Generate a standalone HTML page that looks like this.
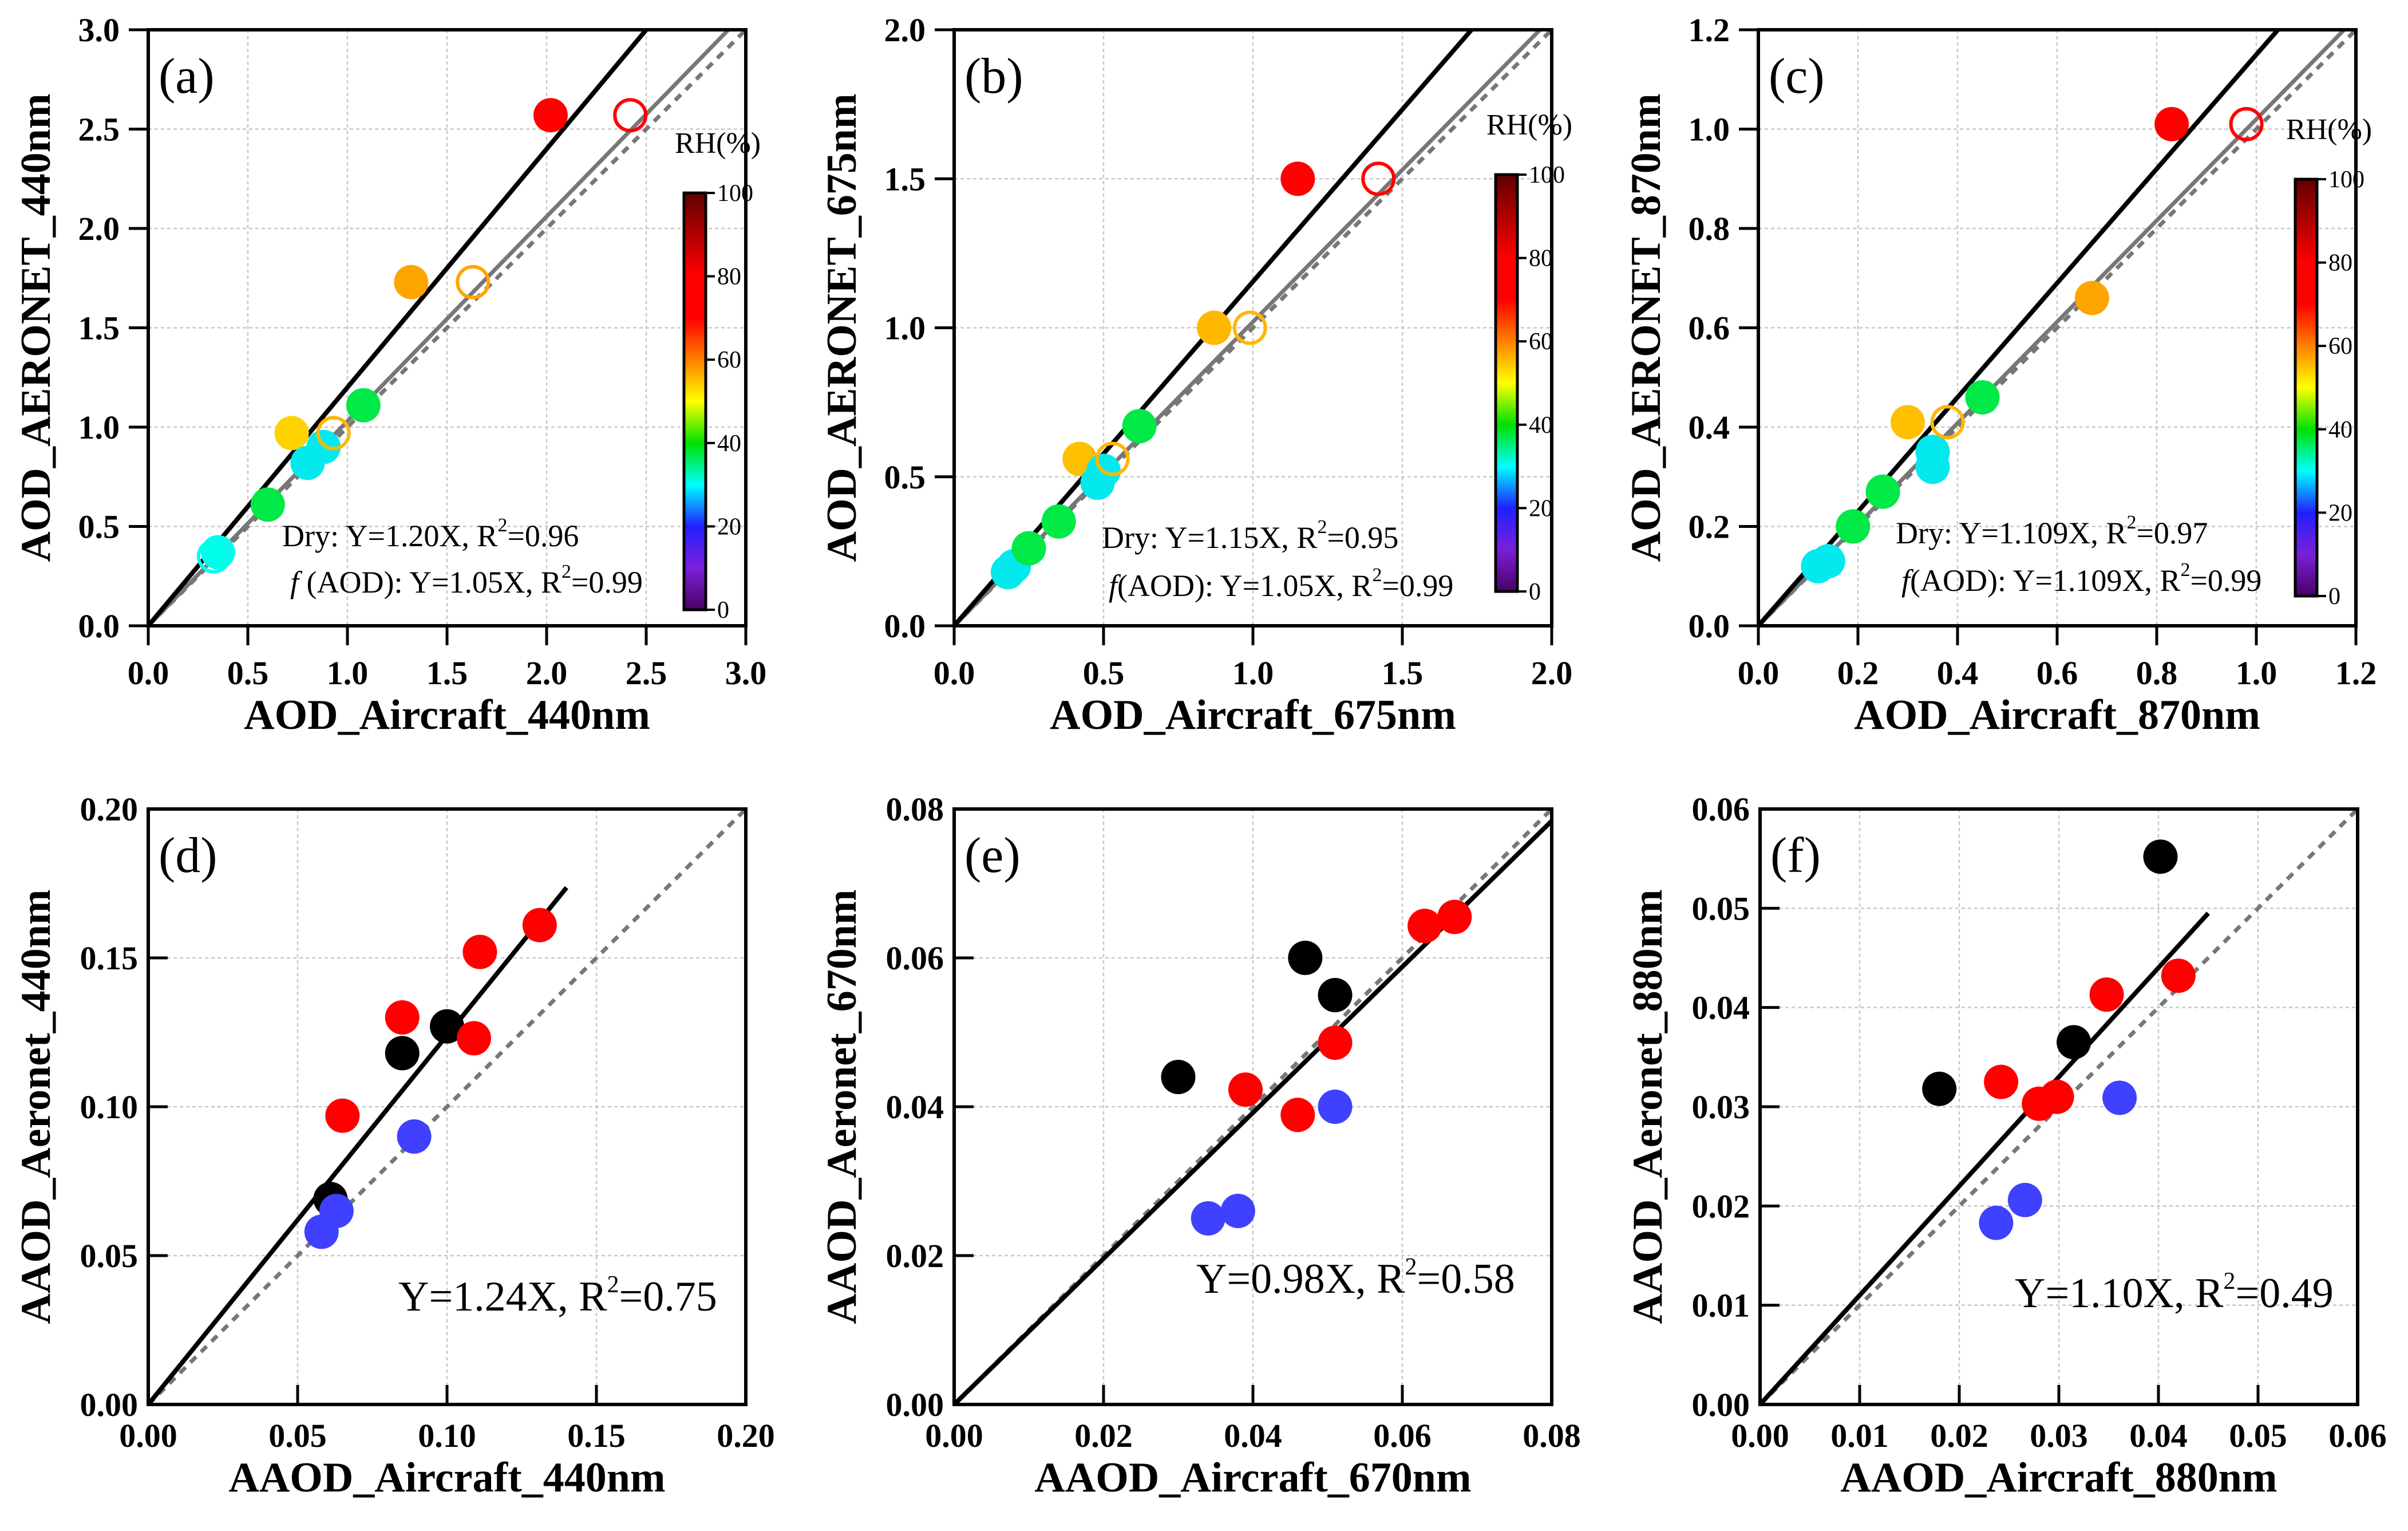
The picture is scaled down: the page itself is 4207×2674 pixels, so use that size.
<!DOCTYPE html>
<html><head><meta charset="utf-8"><style>
html,body{margin:0;padding:0;background:#fff;}
svg{display:block;}
svg text{font-family:"Liberation Serif","Times New Roman",serif;}
</style></head><body>
<svg id="fig" xmlns="http://www.w3.org/2000/svg" width="4207" height="2674" viewBox="0 0 4207 2674" font-family="Liberation Serif, serif">
<defs>
<linearGradient id="rhgrad" x1="0" y1="1" x2="0" y2="0">
<stop offset="0" stop-color="#4a0066"/>
<stop offset="0.1" stop-color="#7a20d8"/>
<stop offset="0.2" stop-color="#2020ff"/>
<stop offset="0.3" stop-color="#00ffff"/>
<stop offset="0.4" stop-color="#00e000"/>
<stop offset="0.5" stop-color="#ffff00"/>
<stop offset="0.6" stop-color="#ff8000"/>
<stop offset="0.7" stop-color="#ff0000"/>
<stop offset="0.8" stop-color="#ff0000"/>
<stop offset="1" stop-color="#600000"/>
</linearGradient>
</defs>
</svg>
<script>
// ---- Panel (a) data ----
const aFilledX=[0.35,0.6,0.72,0.8,0.88,1.08,1.32,2.02];
const aFilledY=[0.37,0.61,0.97,0.82,0.9,1.11,1.73,2.57];
const aFilledRH=[30,37,55,29,29,37,60,75];
const aOpenX=[0.33,0.93,1.63,2.42];
const aOpenY=[0.35,0.97,1.73,2.57];
const aOpenRH=[30,58,60,75];
// ---- Panel (b) data ----
const bFilledX=[0.18,0.2,0.25,0.35,0.42,0.48,0.5,0.62,0.87,1.15];
const bFilledY=[0.18,0.2,0.26,0.35,0.56,0.48,0.52,0.67,1.0,1.5];
const bFilledRH=[29,29,37,37,57,29,29,37,58,75];
const bOpenX=[0.53,0.99,1.42];
const bOpenY=[0.56,1.0,1.5];
const bOpenRH=[58,58,75];
// ---- Panel (c) data ----
const cFilledX=[0.12,0.14,0.19,0.25,0.3,0.35,0.35,0.45,0.67,0.83];
const cFilledY=[0.12,0.13,0.2,0.27,0.41,0.35,0.32,0.46,0.66,1.01];
const cFilledRH=[29,29,37,37,57,29,29,37,60,75];
const cOpenX=[0.38,0.98];
const cOpenY=[0.41,1.01];
const cOpenRH=[58,75];
// ---- Panel (d) data ----
const dBlackX=[0.061,0.085,0.1];
const dBlackY=[0.069,0.118,0.127];
const dRedX=[0.065,0.085,0.109,0.111,0.131];
const dRedY=[0.097,0.13,0.123,0.152,0.161];
const dBlueX=[0.058,0.063,0.089];
const dBlueY=[0.058,0.065,0.09];
// ---- Panel (e) data ----
const eBlackX=[0.03,0.047,0.051];
const eBlackY=[0.044,0.06,0.055];
const eRedX=[0.039,0.046,0.051,0.063,0.067];
const eRedY=[0.0423,0.0389,0.0486,0.0643,0.0655];
const eBlueX=[0.034,0.038,0.051];
const eBlueY=[0.025,0.026,0.040];
// ---- Panel (f) data ----
const fBlackX=[0.018,0.0315,0.0402];
const fBlackY=[0.0318,0.0365,0.0552];
const fRedX=[0.0242,0.028,0.0298,0.0348,0.042];
const fRedY=[0.0325,0.0303,0.031,0.0413,0.0432];
const fBlueX=[0.0237,0.0266,0.0361];
const fBlueY=[0.0183,0.0206,0.0309];
// tick labels
const ticksA=["0.0","0.5","1.0","1.5","2.0","2.5","3.0"];
const ticksB=["0.0","0.5","1.0","1.5","2.0"];
const ticksC=["0.0","0.2","0.4","0.6","0.8","1.0","1.2"];
const ticksD=["0.00","0.05","0.10","0.15","0.20"];
const ticksE=["0.00","0.02","0.04","0.06","0.08"];
const ticksF=["0.00","0.01","0.02","0.03","0.04","0.05","0.06"];
const cbTicks=["0","20","40","60","80","100"];

const NS="http://www.w3.org/2000/svg";
const svg=document.getElementById('fig');
function mk(tag,attrs,parent,name,inter){
  const e=document.createElementNS(NS,tag);
  for(const k in attrs)e.setAttribute(k,attrs[k]);
  
  
  (parent||svg).appendChild(e);return e;
}
const stops=[[0,[74,0,102]],[10,[122,32,216]],[20,[32,32,255]],[30,[0,255,235]],[40,[0,224,0]],[50,[255,255,0]],[60,[255,165,0]],[70,[255,0,0]],[80,[255,0,0]],[100,[96,0,0]]];
function rhColor(v){
  for(let i=0;i<stops.length-1;i++){const[a,ca]=stops[i],[b,cb]=stops[i+1];
    if(v>=a&&v<=b){const t=(v-a)/(b-a);return 'rgb('+ca.map((c,j)=>Math.round(c+(cb[j]-c)*t)).join(',')+')';}}
  return '#600000';
}
function panel(o){
  const g=mk('g',{},svg,'panel-'+o.id,false);
  const L=o.L,T=o.T,W=1044,H=o.H,B=T+H;
  const out=o.out;
  const sx=v=>L+v/o.max*W, sy=v=>B-v/o.max*H;
  const n=o.ticks.length;
  for(let i=1;i<n-1;i++){
    const v=o.max*i/(n-1);
    mk('line',{x1:sx(v),x2:sx(v),y1:T,y2:B,stroke:'#c8c8c8','stroke-width':2.5,'stroke-dasharray':'6,5'},g,'grid-line-x',false);
    mk('line',{x1:L,x2:L+W,y1:sy(v),y2:sy(v),stroke:'#c8c8c8','stroke-width':2.5,'stroke-dasharray':'6,5'},g,'grid-line-y',false);
  }
  for(let i=0;i<n;i++){
    const v=o.max*i/(n-1);
    if(out){
      mk('line',{x1:sx(v),x2:sx(v),y1:B,y2:B+34,stroke:'#000','stroke-width':5},g,'x-tick',false);
      mk('line',{x1:L-34,x2:L,y1:sy(v),y2:sy(v),stroke:'#000','stroke-width':5},g,'y-tick',false);
    } else {
      mk('line',{x1:sx(v),x2:sx(v),y1:B,y2:B-34,stroke:'#000','stroke-width':5},g,'x-tick',false);
      mk('line',{x1:L,x2:L+34,y1:sy(v),y2:sy(v),stroke:'#000','stroke-width':5},g,'y-tick',false);
    }
    const tx=mk('text',{x:sx(v),y:B+(out?102:74),'text-anchor':'middle','font-size':58,'font-weight':'bold'},g,'x-tick-label',false);tx.textContent=o.ticks[i];
    const ty=mk('text',{x:L-(out?50:18),y:sy(v)+20,'text-anchor':'end','font-size':58,'font-weight':'bold'},g,'y-tick-label',false);ty.textContent=o.ticks[i];
  }
  const clip=mk('clipPath',{id:'clip'+o.id},g,'clip',false);
  mk('rect',{x:L,y:T,width:W,height:H},clip,'clip-rect',false);
  const lg=mk('g',{'clip-path':'url(#clip'+o.id+')'},g,'lines',false);
  mk('line',{x1:sx(0),y1:sy(0),x2:sx(o.max),y2:sy(o.max),stroke:'#777','stroke-width':7,'stroke-dasharray':'14,12'},lg,'one-to-one-line',false);
  if(o.gray)mk('line',{x1:sx(0),y1:sy(0),x2:sx(o.max),y2:sy(o.max*o.gray),stroke:'#777','stroke-width':7},lg,'fit-line-faod',false);
  mk('line',{x1:sx(0),y1:sy(0),x2:sx(o.lineEnd),y2:sy(o.lineEnd*o.black),stroke:'#000','stroke-width':8},lg,'fit-line',false);
  const r=30;
  if(o.fx){
    o.fx.forEach((x,i)=>{mk('circle',{cx:sx(x),cy:sy(o.fy[i]),r:r,fill:rhColor(o.frh[i])},lg,'filled-point',false);});
    o.ox.forEach((x,i)=>{mk('circle',{cx:sx(x),cy:sy(o.oy[i]),r:r-3,fill:'none',stroke:rhColor(o.orh[i]),'stroke-width':6},lg,'open-point',false);});
  } else {
    const grp=[[o.bx,o.by,'#000'],[o.rx,o.ry,'#ff0000'],[o.ux,o.uy,'#4040ff']];
    grp.forEach(([xs,ys,c])=>xs.forEach((x,i)=>{mk('circle',{cx:sx(x),cy:sy(ys[i]),r:r,fill:c},lg,'point',false);}));
  }
  mk('rect',{x:L,y:T,width:W,height:H,fill:'none',stroke:'#000','stroke-width':6},g,'plot-frame',false);
  const xt=mk('text',{x:L+W/2,y:B+(out?180:152),'text-anchor':'middle','font-size':74,'font-weight':'bold'},g,'x-axis-title',false);xt.textContent=o.xtitle;
  const yt=mk('text',{x:0,y:0,'text-anchor':'middle','font-size':74,'font-weight':'bold',transform:'translate('+(L-172)+','+(T+H/2)+') rotate(-90)'},g,'y-axis-title',false);yt.textContent=o.ytitle;
  const pl=mk('text',{x:L+18,y:T+110,'font-size':88},g,'panel-label',false);pl.textContent='('+o.id+')';
  o.ann.forEach(a=>{
    const t=mk('text',{x:L+a[0],y:T+a[1],'font-size':a[3]},g,'fit-annotation',false);
    t.innerHTML=a[2];
  });
  if(o.cb){
    const cx=L+o.cb[0],cy=T+o.cb[1],ch=728,cw=38;
    mk('rect',{x:cx,y:cy,width:cw,height:ch,fill:'url(#rhgrad)',stroke:'#000','stroke-width':5},g,'rh-colorbar',false);
    cbTicks.forEach((lab,i)=>{
      const y=cy+ch-ch*i/(cbTicks.length-1);
      mk('line',{x1:cx+cw,x2:cx+cw+16,y1:y,y2:y,stroke:'#000','stroke-width':4},g,'colorbar-tick',false);
      const t=mk('text',{x:cx+cw+20,y:y+14,'font-size':42},g,'colorbar-tick-label',false);t.textContent=lab;
    });
    const rt=mk('text',{x:cx+cw/2+40,y:cy-70,'text-anchor':'middle','font-size':52},g,'colorbar-title',false);rt.textContent='RH(%)';
  }
}
const sup='<tspan dy="-26" font-size="34">2</tspan><tspan dy="26">';
const sup2='<tspan dy="-32" font-size="42">2</tspan><tspan dy="32">';
panel({id:'a',L:259,T:52,H:1041,out:true,max:3,ticks:ticksA,black:1.2,gray:1.03,lineEnd:3,fx:aFilledX,fy:aFilledY,frh:aFilledRH,ox:aOpenX,oy:aOpenY,orh:aOpenRH,
  xtitle:'AOD_Aircraft_440nm',ytitle:'AOD_AERONET_440nm',cb:[936,285],
  ann:[[234,902,'Dry: Y=1.20X,  R'+sup+'=0.96</tspan>',54],[248,983,'<tspan font-style="italic">f</tspan> (AOD): Y=1.05X,  R'+sup+'=0.99</tspan>',54]]});
panel({id:'b',L:1667,T:52,H:1041,out:true,max:2,ticks:ticksB,black:1.155,gray:1.02,lineEnd:2,fx:bFilledX,fy:bFilledY,frh:bFilledRH,ox:bOpenX,oy:bOpenY,orh:bOpenRH,
  xtitle:'AOD_Aircraft_675nm',ytitle:'AOD_AERONET_675nm',cb:[946,253],
  ann:[[258,905,'Dry: Y=1.15X, R'+sup+'=0.95</tspan>',54],[270,989,'<tspan font-style="italic">f</tspan>(AOD): Y=1.05X, R'+sup+'=0.99</tspan>',54]]});
panel({id:'c',L:3072,T:52,H:1041,out:true,max:1.2,ticks:ticksC,black:1.15,gray:1.02,lineEnd:1.2,fx:cFilledX,fy:cFilledY,frh:cFilledRH,ox:cOpenX,oy:cOpenY,orh:cOpenRH,
  xtitle:'AOD_Aircraft_870nm',ytitle:'AOD_AERONET_870nm',cb:[938,261],
  ann:[[240,897,'Dry: Y=1.109X, R'+sup+'=0.97</tspan>',54],[250,980,'<tspan font-style="italic">f</tspan>(AOD): Y=1.109X, R'+sup+'=0.99</tspan>',54]]});
panel({id:'d',L:259,T:1413,H:1040,out:false,max:0.2,ticks:ticksD,black:1.24,lineEnd:0.14,bx:dBlackX,by:dBlackY,rx:dRedX,ry:dRedY,ux:dBlueX,uy:dBlueY,
  xtitle:'AAOD_Aircraft_440nm',ytitle:'AAOD_Aeronet_440nm',
  ann:[[437,876,'Y=1.24X, R'+sup2+'=0.75</tspan>',74]]});
panel({id:'e',L:1667,T:1413,H:1040,out:false,max:0.08,ticks:ticksE,black:0.98,lineEnd:0.08,bx:eBlackX,by:eBlackY,rx:eRedX,ry:eRedY,ux:eBlueX,uy:eBlueY,
  xtitle:'AAOD_Aircraft_670nm',ytitle:'AAOD_Aeronet_670nm',
  ann:[[423,845,'Y=0.98X, R'+sup2+'=0.58</tspan>',74]]});
panel({id:'f',L:3075,T:1413,H:1040,out:false,max:0.06,ticks:ticksF,black:1.10,lineEnd:0.045,bx:fBlackX,by:fBlackY,rx:fRedX,ry:fRedY,ux:fBlueX,uy:fBlueY,
  xtitle:'AAOD_Aircraft_880nm',ytitle:'AAOD_Aeronet_880nm',
  ann:[[445,870,'Y=1.10X, R'+sup2+'=0.49</tspan>',74]]});
</script>
</body></html>
